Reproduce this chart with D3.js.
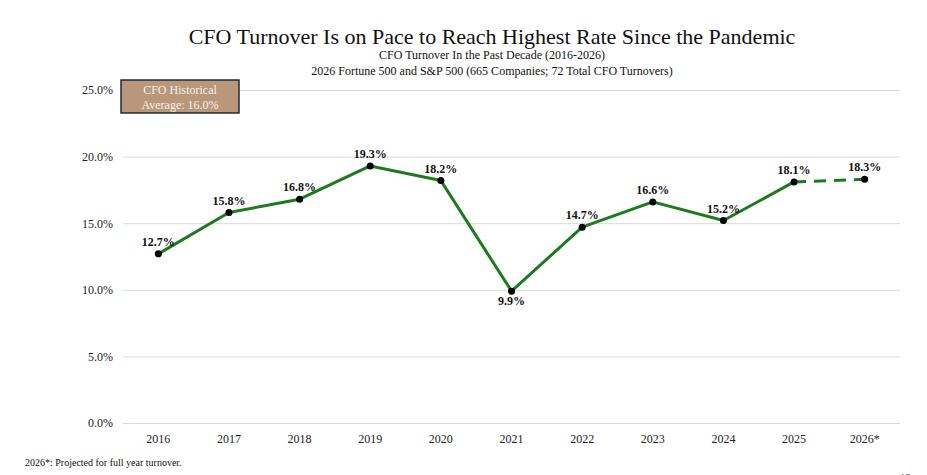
<!DOCTYPE html>
<html lang="en">
<head>
<meta charset="UTF-8">
<title>CFO Turnover</title>
<script src="https://cdn.jsdelivr.net/npm/d3@7"></script>
<style>
  body { margin: 0; background: #fff; }
</style>
</head>
<body>
<svg id="chart" width="927" height="475"></svg>
<script>
// data
const years = ["2016", "2017", "2018", "2019", "2020", "2021", "2022", "2023", "2024", "2025", "2026*"];
const rates = [12.7, 15.8, 16.8, 19.3, 18.2, 9.9, 14.7, 16.6, 15.2, 18.1, 18.3];
const yTicks = [0, 5, 10, 15, 20, 25];
const projectedFrom = 9; // index where the dashed projection starts

const serif = "'Liberation Serif', 'Times New Roman', 'DejaVu Serif', serif";
const svg = d3.select("#chart").attr("font-family", serif);
const plotLeft = 123, plotRight = 900, plotTop = 90, plotBottom = 423;

const x = d3.scaleBand().domain(years).range([plotLeft, plotRight]);
const y = d3.scaleLinear().domain([0, 25]).range([plotBottom, plotTop]);
const cx = d => x(d) + x.bandwidth() / 2;

// titles
svg.append("text").attr("x", 492).attr("y", 44).attr("text-anchor", "middle")
  .attr("font-family", serif).attr("font-size", 22).attr("fill", "#111")
  .text("CFO Turnover Is on Pace to Reach Highest Rate Since the Pandemic");
svg.append("text").attr("x", 492).attr("y", 59).attr("text-anchor", "middle")
  .attr("font-family", serif).attr("font-size", 12).attr("fill", "#111")
  .text("CFO Turnover In the Past Decade (2016-2026)");
svg.append("text").attr("x", 492).attr("y", 75).attr("text-anchor", "middle")
  .attr("font-family", serif).attr("font-size", 12).attr("fill", "#111")
  .text("2026 Fortune 500 and S&P 500 (665 Companies; 72 Total CFO Turnovers)");

// gridlines + y labels
const yAxis = svg.append("g").attr("transform", `translate(${plotLeft},0)`)
  .call(d3.axisLeft(y).tickValues(yTicks).tickSize(-(plotRight - plotLeft)).tickPadding(10)
    .tickFormat(d => d.toFixed(1) + "%"));
yAxis.attr("font-family", serif);
yAxis.select(".domain").remove();
yAxis.selectAll("line").attr("stroke", "#d9d9d9").attr("stroke-width", 1);
yAxis.selectAll("text").attr("font-size", 12).attr("fill", "#222");

// x labels
const xAxis = svg.append("g").attr("transform", `translate(0,${plotBottom})`)
  .call(d3.axisBottom(x).tickSize(0).tickPadding(11));
xAxis.attr("font-family", serif);
xAxis.select(".domain").remove();
xAxis.selectAll("text").attr("font-size", 12).attr("fill", "#222");

// line
const pts = rates.map((r, i) => ({ r, i }));
const line = d3.line().x(d => cx(years[d.i])).y(d => y(d.r));
svg.append("path")
  .datum(pts.slice(0, projectedFrom + 1))
  .attr("fill", "none").attr("stroke", "#1d7a1f").attr("stroke-width", 3)
  .attr("stroke-linejoin", "round")
  .attr("d", line);
svg.append("path")
  .datum(pts.slice(projectedFrom))
  .attr("fill", "none").attr("stroke", "#1d7a1f").attr("stroke-width", 3)
  .attr("stroke-dasharray", "12,8")
  .attr("d", line);

// points
svg.append("g").selectAll("circle").data(pts).join("circle")
  .attr("cx", d => cx(years[d.i])).attr("cy", d => y(d.r))
  .attr("r", 3.5).attr("fill", "#000");

// value labels
svg.append("g").selectAll("text").data(pts).join("text")
  .attr("x", d => cx(years[d.i]))
  .attr("y", d => d.i === 5 ? y(d.r) + 14 : y(d.r) - 8)
  .attr("text-anchor", "middle").attr("font-family", serif)
  .attr("font-size", 12).attr("font-weight", "bold").attr("fill", "#111")
  .text(d => d.r.toFixed(1) + "%");

// historical average box
const box = svg.append("g").attr("font-family", serif);
box.append("rect").attr("x", 121).attr("y", 80).attr("width", 118).attr("height", 33)
  .attr("fill", "#b8977b").attr("stroke", "#1e2d36").attr("stroke-width", 1.5);
box.append("text").attr("x", 180).attr("y", 94).attr("text-anchor", "middle")
  .attr("font-size", 12).attr("fill", "#f7efe6").text("CFO Historical");
box.append("text").attr("x", 180).attr("y", 109).attr("text-anchor", "middle")
  .attr("font-size", 12).attr("fill", "#f7efe6").text("Average: 16.0%");

// footnote and page number (cut off at the bottom edge, as in the source slide)
svg.append("text").attr("x", 25).attr("y", 466).attr("font-family", serif)
  .attr("font-size", 10).attr("fill", "#111")
  .text("2026*: Projected for full year turnover.");
svg.append("text").attr("x", 900).attr("y", 481).attr("font-family", serif)
  .attr("font-size", 11).attr("fill", "#444")
  .text("12");
</script>
</body>
</html>
